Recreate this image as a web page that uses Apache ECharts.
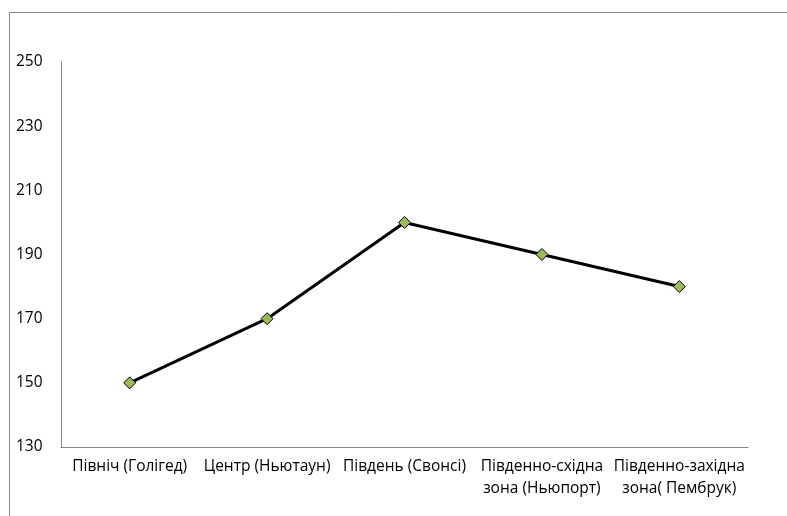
<!DOCTYPE html>
<html>
<head>
<meta charset="utf-8">
<script src="https://cdn.jsdelivr.net/npm/echarts@6/dist/echarts.min.js"></script>
<style>
  html, body { margin: 0; padding: 0; background: #fff; }
  #chart { width: 787px; height: 516px; }
</style>
</head>
<body>
<div id="chart"></div>
<script>
  var categories = ['Північ (Голігед)', 'Центр (Ньютаун)', 'Південь (Свонсі)', 'Південно-східна\nзона (Ньюпорт)', 'Південно-західна\nзона( Пембрук)']
  var values = [150, 170, 200, 190, 180]
  var yMin = 130
  var yMax = 250
  var yStep = 20

  var chart = echarts.init(document.getElementById('chart'))
  chart.setOption({
    animation: false,
    textStyle: { fontFamily: 'Open Sans' },
    graphic: [
      { type: 'line', shape: { x1: 9.5, y1: 12.5, x2: 787, y2: 12.5 }, style: { stroke: '#888', lineWidth: 1 } },
      { type: 'line', shape: { x1: 9.5, y1: 12.5, x2: 9.5, y2: 516 }, style: { stroke: '#888', lineWidth: 1 } }
    ],
    grid: { left: 61, right: 39, top: 62, bottom: 69 },
    xAxis: {
      type: 'category',
      data: categories,
      boundaryGap: true,
      axisLine: { lineStyle: { color: '#868686' } },
      axisTick: { show: false },
      axisLabel: { color: '#000', fontSize: 15.5, margin: 9, lineHeight: 22, interval: 0 }
    },
    yAxis: {
      type: 'value',
      min: yMin,
      max: yMax,
      interval: yStep,
      axisLine: { show: true, lineStyle: { color: '#868686' } },
      axisTick: { show: false },
      splitLine: { show: false },
      axisLabel: { color: '#000', fontSize: 15.5, align: 'left', margin: 45 }
    },
    series: [{
      type: 'line',
      data: values,
      symbol: 'diamond',
      symbolSize: 12,
      lineStyle: { color: '#000', width: 3 },
      itemStyle: { color: '#9BBB59', borderColor: '#000', borderWidth: 1 }
    }]
  })
</script>
</body>
</html>
